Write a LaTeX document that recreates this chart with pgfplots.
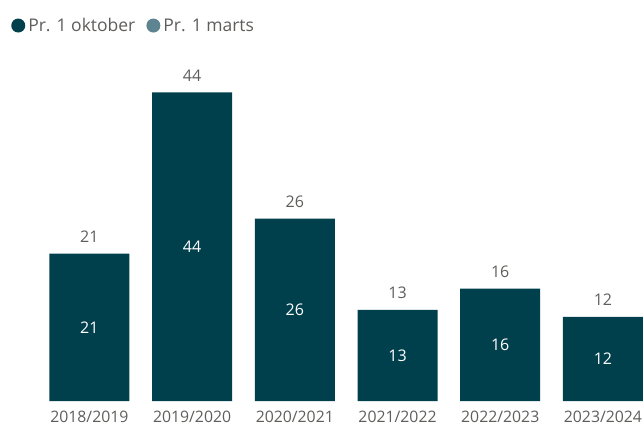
\documentclass[border=0pt]{standalone}
\usepackage{pgfplots}
\pgfplotsset{compat=1.18}
\usepackage{pgfplotstable}
\usepackage{fontspec}
\setmainfont{Open Sans}
\definecolor{barc}{RGB}{0,64,77}
\definecolor{marc}{RGB}{95,132,145}
\definecolor{txt}{RGB}{96,94,92}
\pgfplotstableread{
x label v
0 2018/2019 21
1 2019/2020 44
2 2020/2021 26
3 2021/2022 13
4 2022/2023 16
5 2023/2024 12
}\data
\begin{document}
\begin{tikzpicture}[x=1pt,y=1pt]
\path[use as bounding box] (0,0) rectangle (644,426);
\begin{axis}[
  at={(38pt,25pt)}, anchor=south west, scale only axis,
  width=605pt, height=341pt,
  xmin=-0.5, xmax=5.39, ymin=0, ymax=48.6,
  /pgf/number format/assume math mode=true,
  hide y axis,
  axis x line*=bottom,
  x axis line style={draw=none},
  xtick={0,...,5},
  xticklabels from table={\data}{label},
  xtick style={draw=none},
  xticklabel style={font=\fontsize{15.8}{19}\selectfont, text=txt, inner sep=0pt, yshift=-10pt},
  legend style={at={(-0.0495,1.138)}, anchor=north west, draw=none, fill=none,
    font=\fontsize{17.5}{20}\selectfont, text=txt, legend columns=2,
    nodes={inner sep=3pt},
    /tikz/every even column/.append style={column sep=8pt}},
  legend cell align=left,
]
\addplot[ybar, bar width=80pt, bar shift=0pt, fill=barc, draw=none,
  legend image code/.code={\fill (5pt,0pt) circle (7pt);},
  nodes near coords,
  nodes near coords style={font=\fontsize{16}{19}\selectfont, text=txt, anchor=south, inner sep=0pt, yshift=11pt}]
  table[x=x, y=v]{\data};
\addlegendentry{Pr. 1 oktober}
\addlegendimage{fill=marc, draw=none, legend image code/.code={\fill (5pt,0pt) circle (7pt);}}
\addlegendentry{Pr. 1 marts}
\addplot[draw=none, mark=none, forget plot, nodes near coords, point meta=explicit,
  nodes near coords style={font=\fontsize{16}{19}\selectfont, text=white, anchor=center, inner sep=0pt}]
  table[x=x, y expr=\thisrow{v}/2, meta=v]{\data};
\end{axis}
\end{tikzpicture}
\end{document}
